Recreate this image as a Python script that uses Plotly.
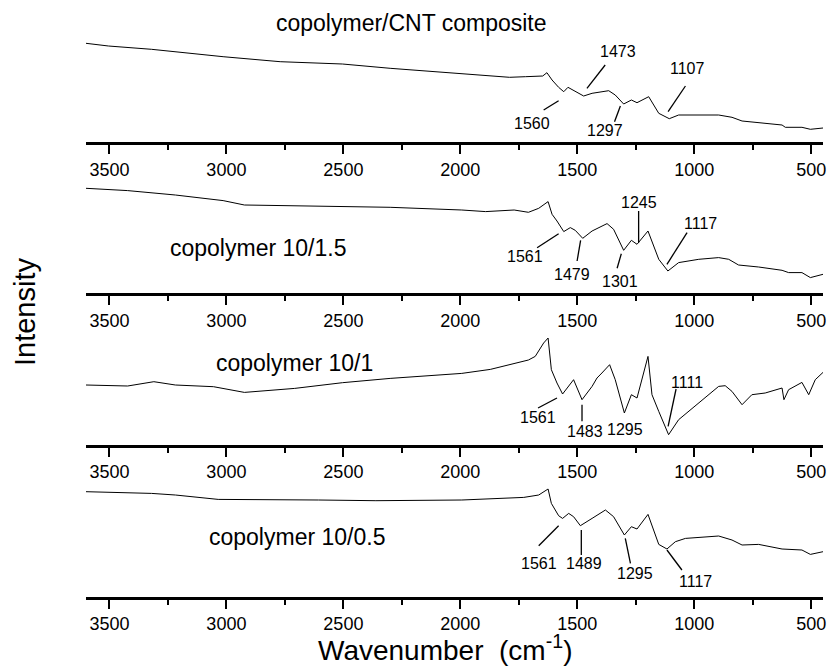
import plotly.graph_objects as go

# ---------------- data (wavenumber in cm-1, intensity in arbitrary units) -------------
wn_cnt = [3600, 3504, 3320, 3014, 2770, 2504, 2300, 1994, 1790, 1722, 1680, 1648, 1630, 1608,
          1580, 1558, 1540, 1523, 1473, 1437, 1366, 1338, 1302, 1269, 1245, 1195, 1152, 1107,
          1067, 896, 839, 796, 725, 625, 611, 540, 504, 450]
int_cnt = [98.7, 96, 92.7, 85.3, 80.3, 78, 73.7, 68, 64.7, 65.3, 65.3, 66, 69.3, 62,
           54.7, 50.3, 54.7, 52.7, 46, 48.7, 51.3, 47, 38, 42, 39.3, 45.3, 28.7, 23.3,
           27, 27, 24.7, 21, 19.3, 17, 14.7, 14.7, 12.7, 14]

wn_15 = [3600, 3422, 3218, 3014, 2923, 2606, 2300, 1994, 1892, 1770, 1709, 1665, 1625, 1608,
         1587, 1558, 1530, 1509, 1477, 1437, 1373, 1345, 1302, 1269, 1245, 1198, 1152, 1113,
         1067, 981, 896, 853, 811, 725, 625, 597, 540, 504, 450]
int_15 = [105, 102.7, 98.3, 92.7, 88.3, 87.3, 86, 83.3, 81.7, 83.3, 81, 85, 91.7, 79,
          72.3, 61.7, 65.7, 63, 55, 62.3, 69.7, 64, 43, 53, 49, 62.3, 34, 22.3,
          30.7, 34, 35.7, 34, 28.3, 26.3, 23, 20.7, 20.7, 15.7, 19]

wn_10 = [3600, 3422, 3310, 3218, 3055, 2923, 2708, 2504, 2300, 1994, 1872, 1749, 1709, 1680,
         1644, 1625, 1611, 1587, 1563, 1516, 1480, 1437, 1416, 1395, 1362, 1338, 1299, 1269,
         1245, 1198, 1181, 1152, 1110, 1067, 981, 896, 868, 839, 796, 754, 697, 625, 617,
         597, 540, 511, 483, 450]
int_10 = [59.7, 58.7, 63, 59.7, 58, 52.3, 56.3, 62, 66.3, 71.3, 75.3, 82, 84.7, 88.3,
          101.7, 106.7, 75, 61.7, 50.7, 65, 45, 58.3, 66.7, 71.7, 80, 65, 31.7, 50,
          46.7, 88.3, 50, 33.3, 10, 25, 41.7, 58.3, 59, 53.3, 40, 50, 51.7, 56.7, 45,
          55, 62.3, 50, 65, 72.3]

wn_05 = [3600, 3320, 3218, 3035, 2606, 2361, 1994, 1729, 1665, 1625, 1611, 1580, 1563, 1537,
         1516, 1487, 1437, 1380, 1345, 1299, 1269, 1245, 1198, 1152, 1117, 1081, 1038, 896,
         839, 796, 725, 625, 540, 504, 450]
int_05 = [105, 103.3, 101.7, 97.3, 96.7, 96, 96.7, 99.3, 101.7, 107.7, 93.3, 81, 78.3, 83.3,
          80, 71, 78.3, 86.7, 80, 61.7, 70, 67.7, 82.3, 52.3, 47.7, 55, 58.3, 60.7,
          56.7, 51.7, 52.3, 47.7, 46.7, 42.3, 45]

sample_names = ["copolymer/CNT composite", "copolymer 10/1.5", "copolymer 10/1", "copolymer 10/0.5"]
tick_vals = [3500, 3000, 2500, 2000, 1500, 1000, 500]
tick_text = ["3500", "3000", "2500", "2000", "1500", "1000", "500"]

# peak labels per panel: label text, label position (wn, intensity), leader line (wn0, i0, wn1, i1)
peak_labels = [
    [("1560", 1692, 18.7, 1580, 41.3, 1644, 32),
     ("1473", 1326, 90.3, 1381, 77, 1459, 53.7),
     ("1297", 1380, 12, 1316, 36, 1341, 20.3),
     ("1107", 1031, 73.7, 1038, 56, 1112, 30.3)],
    [("1561", 1722, 36.6, 1580, 59.6, 1672, 45.6),
     ("1479", 1523, 19, 1486, 53, 1501, 32.3),
     ("1301", 1316, 12.3, 1312, 39.6, 1330, 25),
     ("1245", 1238, 90.6, 1238, 82.3, 1238, 50.6),
     ("1117", 974, 69.6, 1031, 60.6, 1117, 29)],
    [("1561", 1667, 26.7, 1587, 46.7, 1668, 36.7),
     ("1483", 1466, 13.4, 1480, 40, 1480, 23.4),
     ("1295", 1295, 15, None, None, None, None),
     ("1111", 1031, 61.7, 1078, 55.7, 1112, 18.4)],
    [("1561", 1665, 33.4, 1580, 71, 1665, 51),
     ("1489", 1473, 33.4, 1483, 66.7, 1483, 41.7),
     ("1295", 1252, 23.4, 1295, 58.4, 1273, 33.4),
     ("1117", 996, 15, 1117, 46.7, 1053, 26.7)],
]
# sample name anchor (left edge wn, intensity)
name_pos = [(2795, 119), (3250, 45), (3051, 82), (3081, 60)]

series = [(wn_cnt, int_cnt), (wn_15, int_15), (wn_10, int_10), (wn_05, int_05)]

# ---------------- layout geometry ----------------
W, H = 828, 667
axis_px = [142, 293.3, 444.7, 596.7]
panel_h = 130
FONT = "Liberation Sans, Arial, sans-serif"

fig = go.Figure()
shapes = []
annotations = []

for i, (xs, ys) in enumerate(series):
    sfx = "" if i == 0 else str(i + 1)
    fig.add_trace(go.Scatter(x=xs, y=ys, mode="lines", line=dict(color="black", width=1),
                             xaxis="x" + sfx, yaxis="y" + sfx, showlegend=False,
                             hoverinfo="skip"))
    y0 = (H - axis_px[i]) / H
    y1 = (H - axis_px[i] + panel_h) / H
    fig.update_layout(**{
        "xaxis" + sfx: dict(domain=[0, 1], range=[3600, 450], anchor="y" + sfx,
                            showline=True, linecolor="black", linewidth=3,
                            ticks="outside", ticklen=9, tickwidth=2, tickcolor="black",
                            tickvals=tick_vals, ticktext=tick_text,
                            minor=dict(ticks="outside", ticklen=5, tickwidth=2,
                                       tickcolor="black", tick0=250, dtick=500),
                            showgrid=False, zeroline=False,
                            tickfont=dict(family=FONT, size=18, color="black")),
        "yaxis" + sfx: dict(domain=[y0, y1], range=[0, panel_h], visible=False,
                            anchor="x" + sfx),
    })
    for (txt, lx, ly, a0, b0, a1, b1) in peak_labels[i]:
        annotations.append(dict(text=txt, x=lx, y=ly, xref="x" + sfx, yref="y" + sfx,
                                showarrow=False, font=dict(family=FONT, size=16, color="black"),
                                xanchor="center", yanchor="middle"))
        if a0 is not None:
            shapes.append(dict(type="line", x0=a0, y0=b0, x1=a1, y1=b1,
                               xref="x" + sfx, yref="y" + sfx,
                               line=dict(color="black", width=1.3)))
    nx, ny = name_pos[i]
    annotations.append(dict(text=sample_names[i], x=nx, y=ny, xref="x" + sfx, yref="y" + sfx,
                            showarrow=False, font=dict(family=FONT, size=23, color="black"),
                            xanchor="left", yanchor="middle"))

L, R = 86, 5
annotations.append(dict(text="Intensity", x=(25 - L) / (W - L - R), y=(H - 312) / H,
                        xref="paper", yref="paper", showarrow=False, textangle=-90,
                        font=dict(family=FONT, size=29, color="black"),
                        xanchor="center", yanchor="middle"))
annotations.append(dict(text="Wavenumber  (cm<sup>-1</sup>)", x=(445 - L) / (W - L - R),
                        y=(H - 648) / H, xref="paper", yref="paper", showarrow=False,
                        font=dict(family=FONT, size=28, color="black"),
                        xanchor="center", yanchor="middle"))

fig.update_layout(width=W, height=H, margin=dict(l=L, r=R, t=0, b=0, pad=0),
                  paper_bgcolor="white", plot_bgcolor="white",
                  shapes=shapes, annotations=annotations, showlegend=False)

fig.write_html("out.html")
